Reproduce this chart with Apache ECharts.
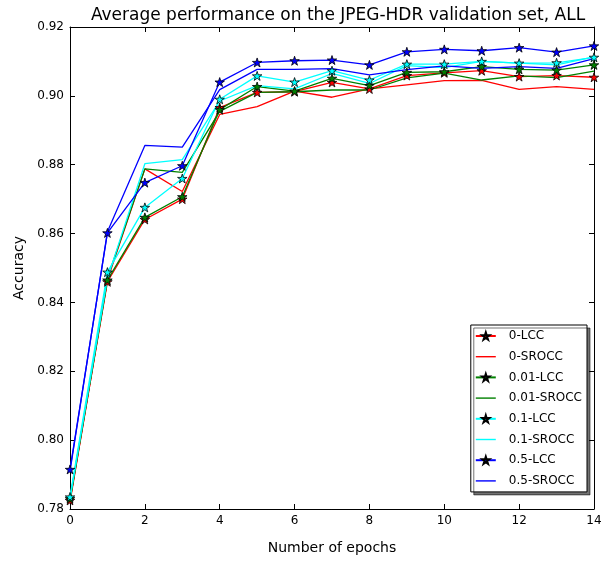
<!DOCTYPE html>
<html>
<head>
<meta charset="utf-8">
<script src="https://cdn.jsdelivr.net/npm/echarts@6/dist/echarts.min.js"></script>
<style>html,body{margin:0;padding:0;background:#fff;}#c{width:611px;height:561px;}</style>
</head>
<body>
<div id="c"></div>
<script>
var epochs = [0,1,2,3,4,5,6,7,8,9,10,11,12,13,14];
var seriesNames = ['0-LCC','0-SROCC','0.01-LCC','0.01-SROCC','0.1-LCC','0.1-SROCC','0.5-LCC','0.5-SROCC'];
var lcc0     = [0.7825,0.8460,0.8641,0.8700,0.8966,0.9010,0.9012,0.9039,0.9020,0.9059,0.9067,0.9073,0.9056,0.9059,0.9054];
var srocc0   = [0.7820,0.8465,0.8788,0.8722,0.8946,0.8969,0.9014,0.8996,0.9020,0.9032,0.9044,0.9045,0.9019,0.9027,0.9019];
var lcc001   = [0.7830,0.8465,0.8647,0.8707,0.8960,0.9027,0.9014,0.9051,0.9030,0.9068,0.9070,0.9085,0.9077,0.9075,0.9090];
var srocc001 = [0.7825,0.8470,0.8788,0.8778,0.8955,0.9010,0.9012,0.9017,0.9017,0.9052,0.9066,0.9046,0.9058,0.9053,0.9072];
var lcc01    = [0.7835,0.8488,0.8676,0.8760,0.8990,0.9058,0.9040,0.9073,0.9046,0.9092,0.9092,0.9100,0.9095,0.9096,0.9112];
var srocc01  = [0.7830,0.8470,0.8803,0.8815,0.8985,0.9030,0.9020,0.9065,0.9036,0.9088,0.9082,0.9100,0.9095,0.9090,0.9113];
var lcc05    = [0.7915,0.8602,0.8748,0.8797,0.9040,0.9097,0.9102,0.9104,0.9090,0.9128,0.9135,0.9131,0.9140,0.9127,0.9145];
var srocc05  = [0.7910,0.8605,0.8856,0.8851,0.9018,0.9077,0.9077,0.9079,0.9061,0.9076,0.9087,0.9080,0.9085,0.9080,0.9108];
var yTicks = [0.78,0.80,0.82,0.84,0.86,0.88,0.90,0.92];
var xTicks = [0,2,4,6,8,10,12,14];

var values = [lcc0, srocc0, lcc001, srocc001, lcc01, srocc01, lcc05, srocc05];
var colors = ['#ff0000','#ff0000','#008000','#008000','#00ffff','#00ffff','#0000ff','#0000ff'];
var STAR = 'path://M0,-1 L0.2245,-0.309 L0.951,-0.309 L0.363,0.118 L0.588,0.809 L0,0.382 L-0.588,0.809 L-0.363,0.118 L-0.951,-0.309 L-0.2245,-0.309 Z';
var LINE_ICON = 'path://M0,0 M20,9 M0,3.8 L20,3.8 L20,5.2 L0,5.2 Z';
var FONT = 'DejaVu Sans';

var series = seriesNames.map(function(name, i){
  var isLcc = name.indexOf('SROCC') < 0;
  return {
    name: name,
    type: 'line',
    xAxisIndex: 0, yAxisIndex: 0,
    data: epochs.map(function(e, j){ return [e, values[i][j]]; }),
    showSymbol: isLcc,
    symbol: isLcc ? STAR : 'none',
    symbolSize: 9.5,
    symbolKeepAspect: true,
    animation: false,
    lineStyle: { color: colors[i], width: 1.3 },
    itemStyle: isLcc ? { color: colors[i], borderColor: '#000', borderWidth: 0.8 }
                     : { color: colors[i], borderWidth: 0 },
    emphasis: { disabled: true }
  };
});

var legendData = seriesNames.map(function(name){
  return name.indexOf('SROCC') < 0 ? { name: name } : { name: name, icon: LINE_ICON };
});

var axisCommon = {
  axisLine: { show: true, onZero: false, lineStyle: { color: '#000', width: 1 } },
  axisTick: { show: true, inside: true, length: 5, lineStyle: { color: '#000' } },
  splitLine: { show: false }
};

var chart = echarts.init(document.getElementById('c'));
chart.setOption({
  backgroundColor: '#fff',
  animation: false,
  title: {
    text: 'Average performance on the JPEG-HDR validation set, ALL',
    left: 333, top: 2, textAlign: 'center',
    textStyle: { fontFamily: FONT, fontSize: 17, fontWeight: 'normal', color: '#000' }
  },
  grid: { left: 70, right: 17, top: 27, bottom: 52 },
  legend: {
    orient: 'vertical',
    right: 24, top: 325,
    data: legendData,
    itemWidth: 20, itemHeight: 9, itemGap: 6.7,
    padding: [4, 5, 4, 4],
    backgroundColor: '#fff',
    borderColor: '#000', borderWidth: 1,
    shadowColor: 'rgba(0,0,0,0.55)', shadowBlur: 0, shadowOffsetX: 3, shadowOffsetY: 3,
    textStyle: { fontFamily: FONT, fontSize: 12, color: '#000', lineHeight: 14, padding: [0,0,0,8] }
  },
  xAxis: [
    Object.assign({
      type: 'value', min: xTicks[0], max: xTicks[xTicks.length-1], interval: 2, position: 'bottom',
      name: 'Number of epochs', nameLocation: 'middle', nameGap: 32,
      nameTextStyle: { fontFamily: FONT, fontSize: 14, color: '#000' },
      axisLabel: { fontFamily: FONT, fontSize: 12, color: '#000', margin: 6 }
    }, axisCommon),
    Object.assign({
      type: 'value', min: xTicks[0], max: xTicks[xTicks.length-1], interval: 2, position: 'top', gridIndex: 0,
      axisLabel: { show: false }
    }, axisCommon)
  ],
  yAxis: [
    Object.assign({
      type: 'value', min: yTicks[0], max: yTicks[yTicks.length-1], interval: 0.02, position: 'left',
      name: 'Accuracy', nameLocation: 'middle', nameGap: 42,
      nameTextStyle: { fontFamily: FONT, fontSize: 14, color: '#000' },
      axisLabel: { fontFamily: FONT, fontSize: 12, color: '#000', margin: 6,
        formatter: function(v){ return v.toFixed(2); } }
    }, axisCommon),
    Object.assign({
      type: 'value', min: yTicks[0], max: yTicks[yTicks.length-1], interval: 0.02, position: 'right', gridIndex: 0,
      axisLabel: { show: false }
    }, axisCommon)
  ],
  series: series
});
</script>
</body>
</html>
